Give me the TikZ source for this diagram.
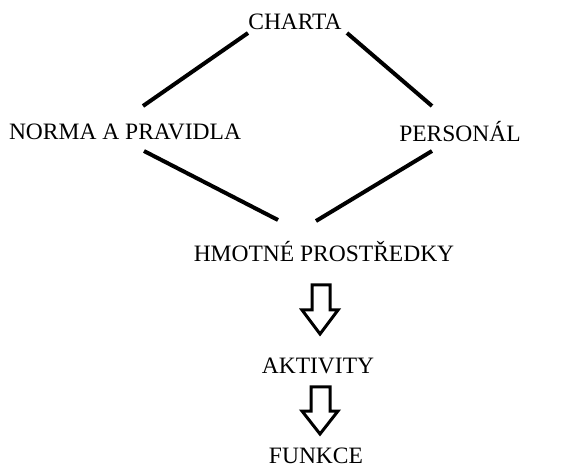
\documentclass[tikz,border=0pt]{standalone}
\usepackage{fontspec}
\setmainfont{Liberation Serif}
\begin{document}
\begin{tikzpicture}[x=1pt,y=1pt,
  lbl/.style={inner sep=0pt, font=\fontsize{23.5}{28}\selectfont},
  conn/.style={line width=4pt},
  blockarrow/.style={draw=black, fill=white, line width=3pt, line join=miter}]
\useasboundingbox (0,0) rectangle (563,472);
\node[lbl] (charta) at (295,450) {CHARTA};
\node[lbl] (norma) at (125,340) {NORMA A PRAVIDLA};
\node[lbl] (personal) at (460,340) {PERSONÁL};
\node[lbl] (hmotne) at (324,220) {HMOTNÉ PROSTŘEDKY};
\node[lbl] (aktivity) at (318,106) {AKTIVITY};
\node[lbl] (funkce) at (316,16) {FUNKCE};
% connector ends
\coordinate (c1) at (248,439); \coordinate (n1) at (143,366);
\coordinate (c2) at (347,439); \coordinate (p1) at (432,366);
\coordinate (n2) at (144,321); \coordinate (h1) at (278,252);
\coordinate (p2) at (432,321); \coordinate (h2) at (316,251);
\draw[conn] (c1) -- (n1);
\draw[conn] (c2) -- (p1);
\draw[conn] (n2) -- (h1);
\draw[conn] (p2) -- (h2);
% block arrows
\draw[blockarrow] (312,187) -- (330,187) -- (330,162) -- (338,162) -- (320,138) -- (302,162) -- (312,162) -- cycle;
\draw[blockarrow] (311,85) -- (330,85) -- (330,61) -- (338,61) -- (320,38) -- (302,61) -- (311,61) -- cycle;
\end{tikzpicture}
\end{document}
